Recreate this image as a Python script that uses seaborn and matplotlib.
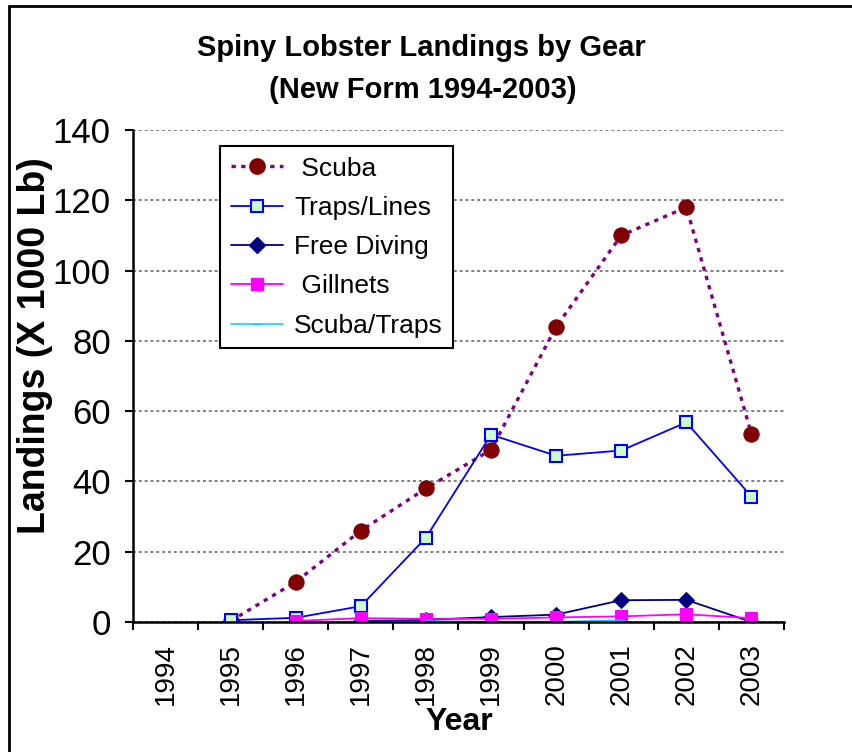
import numpy as np
import pandas as pd
import matplotlib
matplotlib.use("Agg")
import matplotlib.pyplot as plt
import seaborn as sns
from matplotlib.lines import Line2D

years = ["1994", "1995", "1996", "1997", "1998", "1999", "2000", "2001", "2002", "2003"]
nan = np.nan
scuba = [nan, 0.3, 11.4, 26.0, 38.0, 49.0, 84.0, 110.0, 118.0, 53.5]
traps_lines = [nan, 0.5, 1.2, 4.5, 24.0, 53.3, 47.3, 48.8, 56.8, 35.7]
free_diving = [nan, nan, nan, 0.3, 0.6, 1.4, 2.1, 6.2, 6.3, 0.0]
gillnets = [nan, nan, 0.3, 1.1, 0.9, 0.9, 1.3, 1.6, 2.2, 1.1]
scuba_traps = [nan, nan, nan, nan, 0.3, 0.1, 0.1, 0.5, nan, nan]

gears = ["Scuba", "Traps/Lines", "Free Diving", "Gillnets", "Scuba/Traps"]
legend_labels = [" Scuba", "Traps/Lines", "Free Diving", " Gillnets", "Scuba/Traps"]

df = pd.DataFrame({
    "pos": np.arange(len(years)),
    "Scuba": scuba,
    "Traps/Lines": traps_lines,
    "Free Diving": free_diving,
    "Gillnets": gillnets,
    "Scuba/Traps": scuba_traps,
})
long = df.melt(id_vars="pos", var_name="gear", value_name="landings").dropna()

sns.set_style("white")
plt.rcParams["font.family"] = ["Liberation Sans", "DejaVu Sans"]
plt.rcParams["text.color"] = "black"
plt.rcParams["axes.labelcolor"] = "black"
plt.rcParams["xtick.color"] = "black"
plt.rcParams["ytick.color"] = "black"

styles = {
    "Scuba": dict(color="#800080", linestyle=(0, (1.3, 1.6)), linewidth=2.4,
                  marker="o", markersize=11, markerfacecolor="#800000",
                  markeredgecolor="#800000"),
    "Traps/Lines": dict(color="#0000FF", linestyle="-", linewidth=1.3,
                        marker="s", markersize=9, markerfacecolor="#CCFFCC",
                        markeredgecolor="#0000FF", markeredgewidth=1.5),
    "Free Diving": dict(color="#000080", linestyle="-", linewidth=1.3,
                        marker="D", markersize=8, markerfacecolor="#000080",
                        markeredgecolor="#000080"),
    "Gillnets": dict(color="#FF00FF", linestyle="-", linewidth=1.3,
                     marker="s", markersize=8, markerfacecolor="#FF00FF",
                     markeredgecolor="#FF00FF"),
    "Scuba/Traps": dict(color="#00CCFF", linestyle="-", linewidth=1.1,
                        marker="_", markersize=6, markeredgecolor="#00CCFF"),
}

fig = plt.figure(figsize=(8.53, 7.52), dpi=100)
ax = fig.add_axes([133 / 853, 1 - 622 / 752, (784 - 133) / 853, (622 - 130) / 752])

for g in gears:
    sub = long[long["gear"] == g]
    sns.lineplot(data=sub, x="pos", y="landings", ax=ax, legend=False,
                 sort=False, **styles[g])

ax.set_xlim(-0.5, len(years) - 0.5)
ax.set_ylim(0, 140)
ax.set_yticks(np.arange(0, 141, 20))
ax.yaxis.grid(True, color="#808080", linestyle=(0, (1.5, 1.5)), linewidth=1.4)
ax.set_axisbelow(True)

# category boundaries get the ticks, labels sit in the middle
ax.set_xticks(np.arange(-0.5, len(years), 1.0))
ax.set_xticklabels([])
ax.set_xticks(np.arange(len(years)), minor=True)
ax.set_xticklabels(years, minor=True, rotation=90, fontsize=20)
ax.tick_params(axis="x", which="major", direction="out", length=6, width=1.5,
               color="black", bottom=True)
ax.tick_params(axis="x", which="minor", length=0, pad=15)
ax.tick_params(axis="y", direction="out", length=6, width=1.5, color="black",
               left=True, labelsize=25, pad=10)

for s in ["top", "right"]:
    ax.spines[s].set_visible(False)
for s in ["left", "bottom"]:
    ax.spines[s].set_color("black")
    ax.spines[s].set_linewidth(1.8)
ax.set_xlabel("")
ax.set_ylabel("")

fig.text(35 / 853, 1 - 346 / 752, "Landings (X 1000 Lb)", rotation=90,
         ha="center", va="center", fontsize=27, fontweight="bold")
fig.text(459 / 853, 1 - 722 / 752, "Year", ha="center", va="center",
         fontsize=23, fontweight="bold")
fig.text(421 / 853, 1 - 48 / 752, "Spiny Lobster Landings by Gear",
         ha="center", va="center", fontsize=21, fontweight="bold")
fig.text(423 / 853, 1 - 90 / 752, "(New Form 1994-2003)",
         ha="center", va="center", fontsize=21, fontweight="bold")

handles = [Line2D([], [], **styles[g]) for g in gears]
leg = ax.legend(handles, legend_labels, loc="upper left",
                bbox_to_anchor=(220 / 853, 1 - 146 / 752),
                bbox_transform=fig.transFigure, fontsize=19, frameon=True,
                fancybox=False, edgecolor="black", framealpha=1,
                handlelength=2.0, labelspacing=0.58, borderpad=0.4,
                handletextpad=0.4, borderaxespad=0)
leg.get_frame().set_linewidth(1.5)

# outer chart border (top and left visible in the reference)
fig.add_artist(Line2D([9 / 853, 9 / 853], [0, 1 - 6 / 752], color="black",
                      linewidth=2, transform=fig.transFigure))
fig.add_artist(Line2D([9 / 853, 1], [1 - 6 / 752, 1 - 6 / 752], color="black",
                      linewidth=2, transform=fig.transFigure))

fig.savefig("out.png", dpi=100)
